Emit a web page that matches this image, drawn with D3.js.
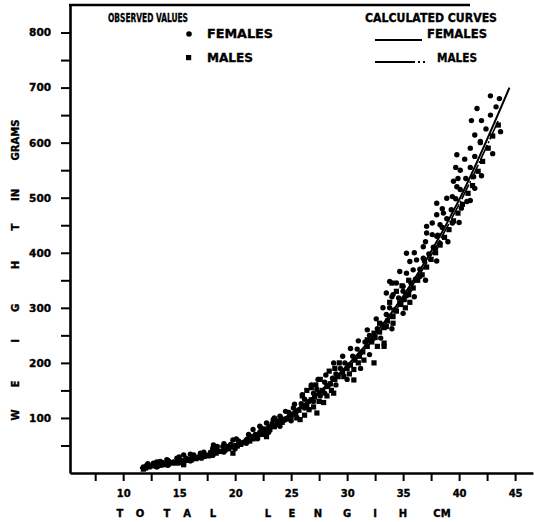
<!DOCTYPE html>
<html>
<head>
<meta charset="utf-8">
<script src="https://cdn.jsdelivr.net/npm/d3@7"></script>
<style>
  body { margin: 0; background: #fff; }
  text { font-family: "DejaVu Sans", sans-serif; font-weight: bold; fill: #000; stroke: #000; stroke-width: 0.35px; }
</style>
</head>
<body>
<script>
// tick values and labels
var xTickValues = [7.5, 10, 12.5, 15, 17.5, 20, 22.5, 25, 27.5, 30, 32.5, 35, 37.5, 40, 42.5, 45];
var xTickLabels = [10, 15, 20, 25, 30, 35, 40, 45];
var yTickValues = [50, 100, 150, 200, 250, 300, 350, 400, 450, 500, 550, 600, 650, 700, 750, 800];
var yTickLabels = [100, 200, 300, 400, 500, 600, 700, 800];

// calculated curves
var curveLength = [11.5, 15, 20, 25, 30, 35, 40, 44.5];
var femaleCurve = [9, 21, 52, 108, 195, 321, 496, 700];
var maleLength = [11.5, 15, 20, 25, 30, 35, 40, 43.5];
var maleCurve = [9, 20, 51, 106, 191, 315, 488, 640];

// observed values [total length cm, weight g]
var femalePoints = [
  [11.8, 11], [12.1, 14], [12.4, 12], [12.8, 16], [13.1, 15], [13.5, 19], [13.8, 17], [14.1, 21],
  [14.5, 20], [14.9, 25], [15.2, 23], [15.6, 27], [15.9, 25], [16.3, 30], [16.7, 29], [17.0, 34],
  [17.4, 33], [17.8, 38], [18.1, 42], [18.5, 40], [18.9, 48], [19.2, 45], [19.6, 52], [20.0, 50],
  [20.3, 58], [20.7, 55], [21.1, 62], [21.5, 66], [21.8, 70], [22.2, 74], [22.6, 80], [23.0, 84],
  [23.3, 90], [23.7, 95], [24.1, 100], [24.4, 96], [24.8, 110], [25.2, 118], [25.5, 112], [25.9, 126],
  [26.2, 134], [26.6, 130], [27.0, 145], [27.3, 152], [27.6, 140], [28.0, 165], [28.3, 158], [28.7, 172],
  [29.0, 180], [29.4, 190], [29.8, 200], [30.1, 196], [30.5, 212], [30.9, 225], [31.2, 218], [31.6, 238],
  [32.0, 250], [32.3, 244], [32.7, 262], [33.1, 270], [33.5, 288], [33.8, 300], [34.2, 296], [34.6, 318],
  [35.0, 330], [35.3, 322], [35.7, 345], [36.1, 352], [36.5, 370], [36.9, 385], [37.3, 398], [37.7, 410],
  [38.1, 432], [38.5, 446], [38.9, 462], [39.3, 478], [39.7, 498], [40.1, 515], [40.6, 535], [41.0, 555],
  [41.4, 575], [41.9, 600], [42.4, 625], [42.8, 650], [43.3, 665], [43.6, 680],
  [42.8, 685], [41.6, 662], [41.1, 640], [43.7, 620], [41.4, 614], [41.9, 602], [41.0, 590], [39.8, 578],
  [39.7, 555], [40.1, 550], [39.9, 535], [41.3, 538], [39.8, 520], [41.4, 517], [39.4, 502], [38.9, 499],
  [38.0, 490], [40.7, 493], [40.2, 481], [38.0, 469], [38.6, 472], [37.1, 448], [37.6, 454], [38.3, 451],
  [39.4, 454], [37.1, 436], [37.6, 433], [38.0, 430], [36.8, 411], [37.9, 408], [38.3, 417], [35.3, 399],
  [35.6, 384], [36.2, 387], [36.8, 390], [34.7, 366], [35.3, 363], [35.9, 369], [36.5, 357], [33.8, 348],
  [34.4, 345], [35.0, 339], [35.6, 333], [33.5, 327], [34.1, 324], [24.0, 103], [23.4, 97], [22.8, 91],
  [22.2, 85], [21.6, 79], [21.0, 60], [20.4, 54], [19.8, 60], [19.25, 48], [18.4, 48], [18.06, 51],
  [16.9, 36], [16.3, 33], [15.4, 33], [14.8, 27], [13.9, 24], [13.3, 21], [12.7, 18],
  [12.2, 17], [13.0, 20], [14.0, 23], [15.0, 29], [16.0, 34], [17.2, 38], [18.0, 45], [19.0, 53],
  [20.1, 62], [21.2, 70], [22.3, 82], [23.5, 100], [24.5, 112], [25.3, 125], [26.0, 142], [26.8, 160],
  [27.4, 170], [28.1, 178], [28.8, 200], [29.6, 212], [30.3, 226], [31.0, 240], [31.8, 260], [32.6, 280],
  [33.2, 300], [34.0, 320], [30.0, 170], [29.0, 160], [28.0, 145], [27.0, 130], [26.2, 118], [25.0, 95],
  [24.0, 85], [23.0, 74], [22.0, 62], [21.0, 54], [20.0, 44], [19.0, 38], [18.0, 32], [17.0, 27],
  [16.0, 22], [15.0, 18], [14.0, 14], [13.0, 11], [31.2, 190], [32.0, 215], [33.0, 245], [34.0, 262],
  [35.0, 290], [36.0, 320], [37.0, 350], [38.0, 385], [39.0, 420], [40.0, 455], [41.0, 495], [42.0, 540],
  [43.0, 580], [36.0, 400], [37.0, 420], [38.5, 480], [39.5, 530], [40.5, 570], [42.0, 640]
];
var malePoints = [
  [12.0, 9], [12.3, 11], [12.6, 13], [13.0, 12], [13.3, 14], [13.6, 15], [14.0, 16], [14.3, 18],
  [14.7, 18], [15.0, 21], [15.4, 19], [15.7, 23], [16.1, 24], [16.5, 26], [16.9, 28], [17.2, 30],
  [17.6, 31], [18.0, 35], [18.3, 36], [18.7, 39], [19.1, 42], [19.4, 44], [19.8, 47], [20.2, 49],
  [20.5, 52], [20.9, 56], [21.3, 58], [21.6, 62], [22.0, 66], [22.4, 70], [22.8, 74], [23.1, 79],
  [23.5, 84], [23.9, 88], [24.2, 92], [24.6, 98], [25.0, 103], [25.4, 107], [25.7, 114], [26.1, 121],
  [26.4, 122], [26.8, 133], [27.1, 138], [27.5, 145], [27.8, 150], [28.2, 157], [28.5, 162], [28.9, 170],
  [29.2, 175], [29.6, 183], [30.0, 190], [30.3, 196], [30.7, 205], [31.1, 212], [31.4, 220], [31.8, 230],
  [32.2, 238], [32.5, 246], [32.9, 256], [33.3, 264], [33.6, 276], [34.0, 285], [34.4, 294], [34.8, 306],
  [35.1, 315], [35.5, 324], [35.9, 336], [36.3, 350], [36.7, 360], [37.1, 374], [37.5, 388], [37.9, 400],
  [38.3, 414], [38.7, 428], [39.1, 442], [39.5, 458], [39.9, 472], [40.3, 488], [40.8, 508], [41.2, 522],
  [41.7, 548], [42.1, 566], [42.6, 590], [43.0, 612], [43.5, 632],
  [26.0, 140], [26.4, 150], [26.8, 155], [27.2, 160], [27.5, 130], [27.9, 128], [28.2, 140], [28.6, 150],
  [28.9, 190], [29.3, 200], [27.0, 120], [27.6, 170], [28.4, 185], [26.6, 115], [25.5, 100], [26.2, 105],
  [29.7, 175], [30.2, 180], [30.6, 188], [31.0, 200], [31.5, 205], [31.8, 242], [32.4, 254], [32.7, 230],
  [33.3, 236], [32.9, 272], [33.5, 266], [34.1, 284], [33.8, 310], [34.4, 330], [34.9, 340], [35.2, 300],
  [35.6, 310], [34.0, 345], [35.5, 350], [11.8, 7], [15.4, 15], [19.8, 36], [22.8, 66], [25.8, 97],
  [27.3, 109], [28.8, 145], [30.6, 169], [32.4, 200], [33.3, 230], [34.1, 272], [34.7, 309]
];

var width = 534, height = 522;

var svg = d3.select("body").append("svg")
    .attr("width", width)
    .attr("height", height);

var x = d3.scaleLinear().domain([5.25, 46.6]).range([70, 533]);
var y = d3.scaleLinear().domain([0, 850]).range([473, 5]);

// axes
var xAxis = d3.axisBottom(x)
    .tickValues(xTickValues)
    .tickSize(8)
    .tickSizeOuter(0)
    .tickPadding(9)
    .tickFormat(function(d) { return xTickLabels.indexOf(d) >= 0 ? d : ""; });

var yAxis = d3.axisLeft(y)
    .tickValues(yTickValues)
    .tickSize(9)
    .tickSizeOuter(0)
    .tickPadding(10)
    .tickFormat(function(d) { return yTickLabels.indexOf(d) >= 0 ? d : ""; });

var gx = svg.append("g")
    .attr("transform", "translate(0," + y(0) + ")")
    .call(xAxis);

var gy = svg.append("g")
    .attr("transform", "translate(" + x(5.25) + ",0)")
    .call(yAxis);

[gx, gy].forEach(function(g) {
    g.select(".domain").attr("stroke", "#000").attr("stroke-width", 2.6);
    g.selectAll(".tick line").attr("stroke", "#000").attr("stroke-width", 2);
    g.selectAll(".tick text")
        .attr("font-family", "DejaVu Sans, sans-serif")
        .attr("font-weight", "bold")
        .attr("fill", "#000");
});
gx.selectAll(".tick text").attr("font-size", 10);
gy.selectAll(".tick text").attr("font-size", 10.5);

// top border
svg.append("line")
    .attr("x1", 69).attr("x2", 470)
    .attr("y1", 5).attr("y2", 5)
    .attr("stroke", "#000")
    .attr("stroke-width", 2.6);

// axis titles
var xTitle = [["T", 120], ["O", 140], ["T", 167], ["A", 187], ["L", 213], ["L", 268], ["E", 292],
              ["N", 318], ["G", 347], ["I", 375], ["H", 403], ["CM", 442]];
svg.append("g").selectAll("text")
    .data(xTitle)
    .enter()
    .append("text")
    .attr("x", function(d) { return d[1]; })
    .attr("y", 517)
    .attr("text-anchor", "middle")
    .attr("font-size", 10)
    .text(function(d) { return d[0]; });

var yTitle = [["W", 415], ["E", 384], ["I", 341], ["G", 308], ["H", 265], ["T", 227], ["IN", 195], ["GRAMS", 140]];
svg.append("g").selectAll("text")
    .data(yTitle)
    .enter()
    .append("text")
    .attr("transform", function(d) { return "translate(19," + d[1] + ") rotate(-90)"; })
    .attr("text-anchor", "middle")
    .attr("font-size", 10)
    .text(function(d) { return d[0]; });

// calculated curves
var line = d3.line().curve(d3.curveMonotoneX);

svg.append("path")
    .datum(curveLength.map(function(l, i) { return [x(l), y(femaleCurve[i])]; }))
    .attr("d", line)
    .attr("fill", "none")
    .attr("stroke", "#000")
    .attr("stroke-width", 2);

svg.append("path")
    .datum(maleLength.map(function(l, i) { return [x(l), y(maleCurve[i])]; }))
    .attr("d", line)
    .attr("fill", "none")
    .attr("stroke", "#000")
    .attr("stroke-width", 1.6)
    .attr("stroke-dasharray", "16,2,2,2");

// observed values
svg.append("g").selectAll("circle")
    .data(femalePoints)
    .enter()
    .append("circle")
    .attr("cx", function(d) { return x(d[0]); })
    .attr("cy", function(d) { return y(d[1]); })
    .attr("r", 2.7)
    .attr("fill", "#000");

svg.append("g").selectAll("rect")
    .data(malePoints)
    .enter()
    .append("rect")
    .attr("x", function(d) { return x(d[0]) - 2.6; })
    .attr("y", function(d) { return y(d[1]) - 2.6; })
    .attr("width", 5.2)
    .attr("height", 5.2)
    .attr("fill", "#000");

// legend
var legend = svg.append("g");
legend.append("text").attr("x", 108).attr("y", 22).attr("font-size", 12)
    .attr("textLength", 80).attr("lengthAdjust", "spacingAndGlyphs").text("OBSERVED VALUES");
legend.append("text").attr("x", 365).attr("y", 22).attr("font-size", 12)
    .attr("textLength", 132).attr("lengthAdjust", "spacingAndGlyphs").text("CALCULATED CURVES");

legend.append("circle").attr("cx", 189).attr("cy", 34).attr("r", 2.8).attr("fill", "#000");
legend.append("text").attr("x", 207).attr("y", 38).attr("font-size", 12)
    .attr("textLength", 66).attr("lengthAdjust", "spacingAndGlyphs").text("FEMALES");
legend.append("rect").attr("x", 186).attr("y", 55).attr("width", 5.2).attr("height", 5.2).attr("fill", "#000");
legend.append("text").attr("x", 207).attr("y", 62).attr("font-size", 12)
    .attr("textLength", 46).attr("lengthAdjust", "spacingAndGlyphs").text("MALES");

legend.append("line").attr("x1", 375).attr("x2", 422).attr("y1", 40).attr("y2", 40)
    .attr("stroke", "#000").attr("stroke-width", 2);
legend.append("text").attr("x", 427).attr("y", 38).attr("font-size", 12)
    .attr("textLength", 60).attr("lengthAdjust", "spacingAndGlyphs").text("FEMALES");
legend.append("line").attr("x1", 375).attr("x2", 428).attr("y1", 62).attr("y2", 62)
    .attr("stroke", "#000").attr("stroke-width", 1.8).attr("stroke-dasharray", "40,3,2,3,2,3");
legend.append("text").attr("x", 437).attr("y", 62).attr("font-size", 12)
    .attr("textLength", 40).attr("lengthAdjust", "spacingAndGlyphs").text("MALES");
</script>
</body>
</html>
